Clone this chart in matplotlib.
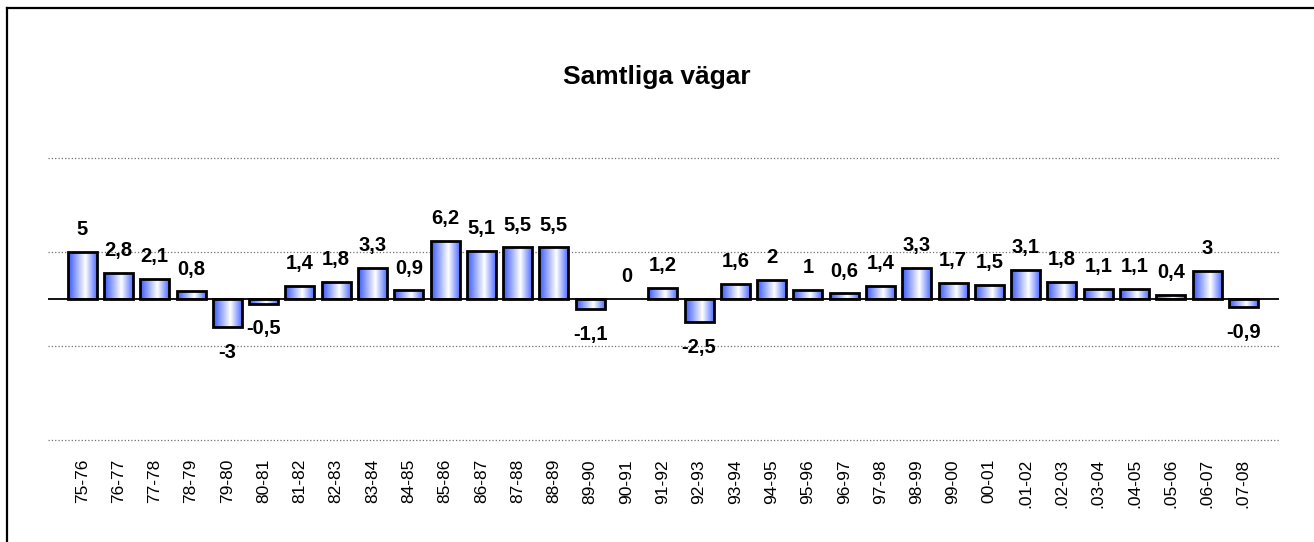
import matplotlib.pyplot as plt
import numpy as np
from matplotlib.colors import LinearSegmentedColormap
from matplotlib.lines import Line2D

plt.rcParams['font.family'] = ['Liberation Sans', 'DejaVu Sans']

# seasons and change in percent
labels = ['75-76', '76-77', '77-78', '78-79', '79-80', '80-81', '81-82', '82-83',
          '83-84', '84-85', '85-86', '86-87', '87-88', '88-89', '89-90', '90-91',
          '91-92', '92-93', '93-94', '94-95', '95-96', '96-97', '97-98', '98-99',
          '99-00', '00-01', '.01-02', '.02-03', '.03-04', '.04-05', '.05-06',
          '.06-07', '.07-08']
values = [5, 2.8, 2.1, 0.8, -3, -0.5, 1.4, 1.8, 3.3, 0.9, 6.2, 5.1, 5.5, 5.5,
          -1.1, 0, 1.2, -2.5, 1.6, 2, 1, 0.6, 1.4, 3.3, 1.7, 1.5, 3.1, 1.8,
          1.1, 1.1, 0.4, 3, -0.9]

fig = plt.figure(figsize=(13.14, 5.42), dpi=100)
ax = fig.add_axes([0.0363, 0.189, 0.937, 0.519])

x = np.arange(len(values))
bars = ax.bar(x, values, width=0.8, facecolor='none', edgecolor='black',
              linewidth=2.0, zorder=3)

# excel-like horizontal gradient in each bar
cmap = LinearSegmentedColormap.from_list(
    'grad', [(0, '#3756ff'), (0.58, '#ffffff'), (1, '#4262ff')])
grad = np.linspace(0, 1, 256).reshape(1, -1)
for b in bars:
    x0, y0 = b.get_x(), b.get_y()
    w, h = b.get_width(), b.get_height()
    if h == 0:
        b.set_linewidth(0)
        continue
    im = ax.imshow(grad, cmap=cmap, aspect='auto', zorder=2,
                   extent=[x0, x0 + w, y0, y0 + h], interpolation='bilinear')
    im.set_clip_path(b)

for xi, v in zip(x, values):
    txt = ('%g' % v).replace('.', ',')
    off = 16 if v >= 0 else -18
    ax.annotate(txt, (xi, v), xytext=(0, off), textcoords='offset points',
                ha='center', va='center', fontsize=14.5, fontweight='bold')

ax.axhline(0, color='black', linewidth=1.3, zorder=4)
ax.set_ylim(-15, 15)
ax.set_xlim(-0.95, len(values) - 0.02)
ax.set_yticks([-15, -5, 5, 15])
ax.set_yticklabels([])
ax.grid(axis='y', linestyle=':', color='#707070', linewidth=0.9)
for gl in ax.get_ygridlines():
    gl.set_clip_on(False)
ax.set_xticks(x)
ax.set_xticklabels(labels, rotation=90, fontsize=12.5)
ax.tick_params(length=0, pad=14)
for s in ax.spines.values():
    s.set_visible(False)

fig.text(0.5, 0.858, 'Samtliga vägar', ha='center', va='center',
         fontsize=19, fontweight='bold')

# outer chart frame (only top and left edges visible)
fig.add_artist(Line2D([6.5 / 1314, 6.5 / 1314], [0, 1 - 7.5 / 542],
                      color='black', linewidth=1.6))
fig.add_artist(Line2D([6.5 / 1314, 1], [1 - 7.5 / 542, 1 - 7.5 / 542],
                      color='black', linewidth=1.6))

fig.savefig('out.png', dpi=100)
